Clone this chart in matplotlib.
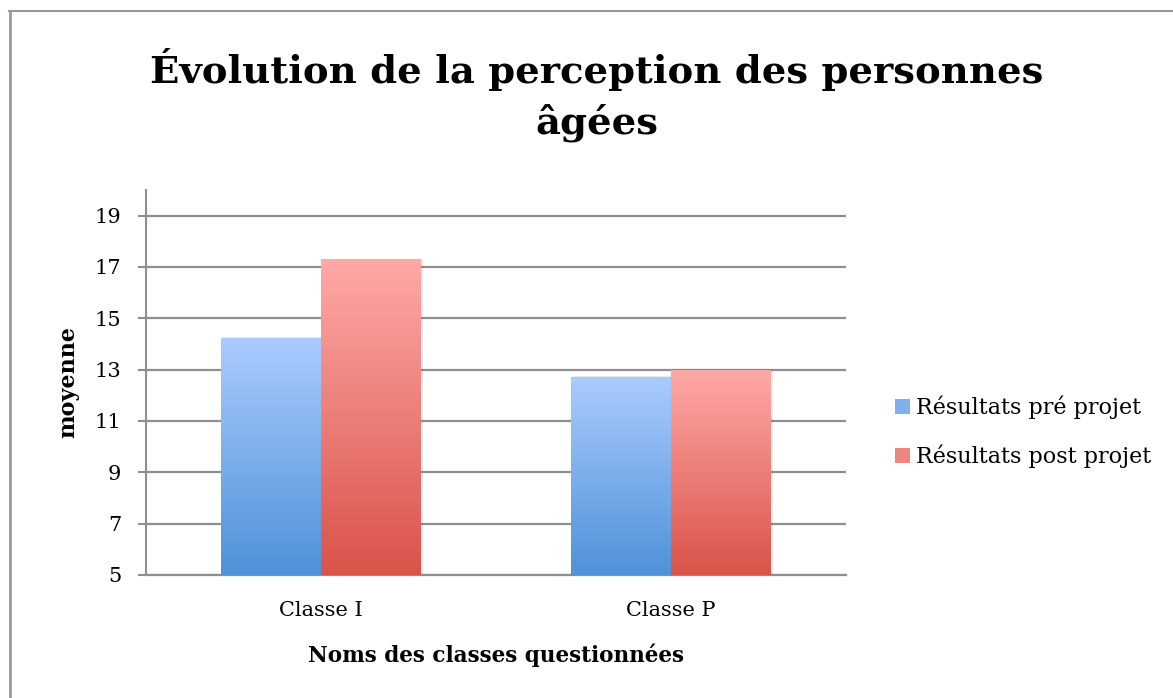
import numpy as np
import matplotlib
matplotlib.use("Agg")
import matplotlib.pyplot as plt
from matplotlib.colors import LinearSegmentedColormap
from matplotlib.patches import Rectangle
from matplotlib.lines import Line2D

categories = ["Classe I", "Classe P"]
series_names = ["Résultats pré projet", "Résultats post projet"]
pre_values = [14.23, 12.71]
post_values = [17.3, 13.0]
y_ticks = [5, 7, 9, 11, 13, 15, 17, 19]
title_lines = ["Évolution de la perception des personnes", "âgées"]
xlabel = "Noms des classes questionnées"
ylabel = "moyenne"

FONT = "DejaVu Serif"
plt.rcParams["font.family"] = [FONT]

W, H = 1173, 698
fig = plt.figure(figsize=(W / 100, H / 100), dpi=100)
ax = fig.add_axes([146 / W, 1 - 575 / H, (846 - 146) / W, (575 - 190) / H])

blue_cmap = LinearSegmentedColormap.from_list("b", ["#4f92d8", "#aacbff"])
red_cmap = LinearSegmentedColormap.from_list("r", ["#d9534a", "#ffa9a7"])

x = np.arange(len(categories))
w = 1 / 3.5
grid_col = "#8f8f8f"

for vals, off, cmap in [(pre_values, -w / 2, blue_cmap), (post_values, w / 2, red_cmap)]:
    bars = ax.bar(x + off, np.array(vals) - 5, width=w, bottom=5, color="none", zorder=3)
    for b in bars:
        x0, y0, bw, bh = b.get_x(), b.get_y(), b.get_width(), b.get_height()
        grad = np.linspace(0, 1, 256).reshape(-1, 1)
        sh = Rectangle((x0 + 0.006, y0), bw, bh + 0.03, facecolor="#000000", alpha=0.08,
                       zorder=2.5, edgecolor="none")
        ax.add_patch(sh)
        im = ax.imshow(grad, cmap=cmap, extent=[x0, x0 + bw, y0, y0 + bh], origin="lower",
                       aspect="auto", zorder=3, interpolation="bilinear")
        im.set_clip_path(b)

ax.set_xlim(-0.5, 1.5)
ax.set_ylim(5, 20)
ax.set_yticks(y_ticks)
ax.set_yticklabels([str(t) for t in y_ticks], fontsize=15)
ax.set_xticks(x)
ax.set_xticklabels(categories, fontsize=15)
ax.tick_params(axis="y", length=6, width=1.5, color=grid_col, pad=12)
ax.tick_params(axis="x", length=0, pad=19)
ax.yaxis.grid(True, color=grid_col, linewidth=1.6, zorder=1)
ax.set_axisbelow(True)
for s in ["top", "right"]:
    ax.spines[s].set_visible(False)
ax.spines["left"].set_color(grid_col)
ax.spines["left"].set_linewidth(1.5)
ax.spines["bottom"].set_color(grid_col)
ax.spines["bottom"].set_linewidth(1.6)

ax.set_xlabel(xlabel, fontsize=15.5, fontweight="bold", va="center")
ax.xaxis.set_label_coords(0.5, (575 - 655) / 385)
ax.set_ylabel(ylabel, fontsize=16, fontweight="bold", va="center")
ax.yaxis.set_label_coords((68 - 146) / 700, (575 - 382) / 385)

fig.text(597 / W, 1 - 83 / H, title_lines[0], ha="center", va="baseline", fontsize=27.7,
         fontweight="bold")
fig.text(597 / W, 1 - 133 / H, title_lines[1], ha="center", va="baseline", fontsize=27.7,
         fontweight="bold")

handles = [Rectangle((0, 0), 1, 1, facecolor="#7fb0ec"), Rectangle((0, 0), 1, 1, facecolor="#ee8580")]
fig.legend(handles, series_names, loc="center left", bbox_to_anchor=(895 / W, 1 - 432 / H),
           frameon=False, fontsize=16, handlelength=0.68, handleheight=0.62,
           handletextpad=0.25, labelspacing=1.15, borderpad=0, borderaxespad=0)

fig.add_artist(Line2D([9 / W, 1], [1 - 11 / H, 1 - 11 / H], color="#999999", lw=1.5,
                      transform=fig.transFigure))
fig.add_artist(Line2D([10 / W, 10 / W], [0, 1 - 11 / H], color="#999999", lw=2,
                      transform=fig.transFigure))

fig.savefig("out.png", dpi=100)
